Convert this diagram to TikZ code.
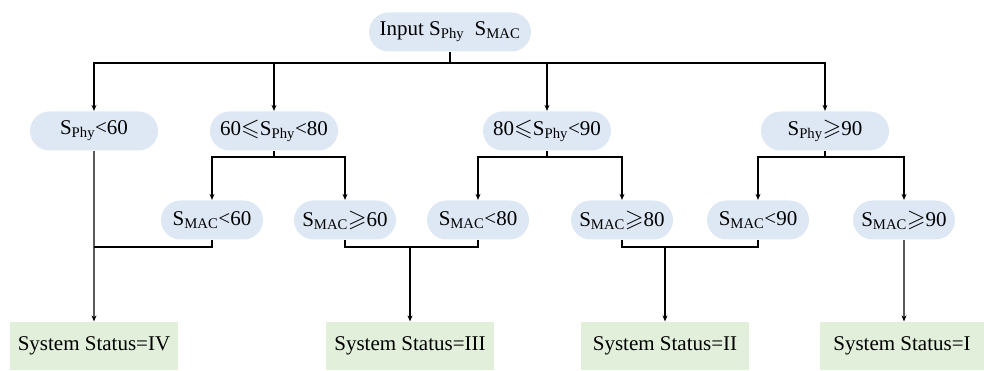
\documentclass[tikz,border=0pt]{standalone}
\usepackage{amssymb}
\usepackage{fontspec}
\setmainfont{Liberation Serif}
\usetikzlibrary{shapes.misc,arrows.meta}
\definecolor{condcolor}{RGB}{222,232,245}
\definecolor{statuscolor}{RGB}{226,239,218}
\newcommand{\Sphy}{S\textsubscript{Phy}}
\newcommand{\Smac}{S\textsubscript{MAC}}
\newcommand{\lesl}{\scalebox{1.15}{$\leqslant$}}
\newcommand{\gesl}{\scalebox{1.15}{$\geqslant$}}

\begin{document}
\begin{tikzpicture}[x=1pt,y=-1pt,font=\fontsize{21}{25}\selectfont,line width=1.2pt,>={Stealth[length=6pt,width=5pt]}]
\useasboundingbox (0,0) rectangle (984,371);

\begin{scope}[every node/.style={rounded rectangle,fill=condcolor,minimum height=39,inner sep=2pt}]
\node[minimum width=166] (in) at (450,32) {Input \Sphy\ \ \Smac};
% first test on S_Phy
\node[minimum width=132] (p1) at (94,131) {\Sphy{}<60};
\node[minimum width=132] (p2) at (274,131) {60\lesl\Sphy{}<80};
\node[minimum width=132] (p3) at (547,131) {80\lesl\Sphy{}<90};
\node[minimum width=132] (p4) at (825,131) {\Sphy{}\gesl90};
% second test on S_MAC
\node[minimum width=106] (m1) at (212,220) {\Smac{}<60};
\node[minimum width=106] (m2) at (345,220) {\Smac{}\gesl60};
\node[minimum width=106] (m3) at (478,220) {\Smac{}<80};
\node[minimum width=106] (m4) at (622,220) {\Smac{}\gesl80};
\node[minimum width=106] (m5) at (758,220) {\Smac{}<90};
\node[minimum width=106] (m6) at (904,220) {\Smac{}\gesl90};
\end{scope}

\begin{scope}[every node/.style={rectangle,fill=statuscolor,minimum width=168,minimum height=48,inner sep=2pt}]
\node (s1) at (94,346) {System Status=IV};
\node (s2) at (410,346) {System Status=III};
\node (s3) at (665,346) {System Status=II};
\node[minimum width=164] (s4) at (902,346) {System Status=I};
\end{scope}

\coordinate (top) at (450,63);
\coordinate (b2) at (274,157);
\coordinate (b3) at (547,157);
\coordinate (b4) at (825,157);
\coordinate (j1) at (94,247);
\coordinate (j2) at (410,247);
\coordinate (j3) at (665,247);

\draw (in) -- (top);
\draw[->] (top) -| (p1);
\draw[->] (top) -| (p2);
\draw[->] (top) -| (p3);
\draw[->] (top) -| (p4);

\draw (p2) -- (b2);
\draw[->] (b2) -| (m1);
\draw[->] (b2) -| (m2);
\draw (p3) -- (b3);
\draw[->] (b3) -| (m3);
\draw[->] (b3) -| (m4);
\draw (p4) -- (b4);
\draw[->] (b4) -| (m5);
\draw[->] (b4) -| (m6);

\draw[->] (p1) -- (s1);
\draw (m1.south) |- (j1);
\draw (m2.south) |- (j2) -| (m3.south);
\draw[->] (j2) -- (s2);
\draw (m4.south) |- (j3) -| (m5.south);
\draw[->] (j3) -- (s3);
\draw[->] (m6) -- (m6 |- s4.north);
\end{tikzpicture}
\end{document}
